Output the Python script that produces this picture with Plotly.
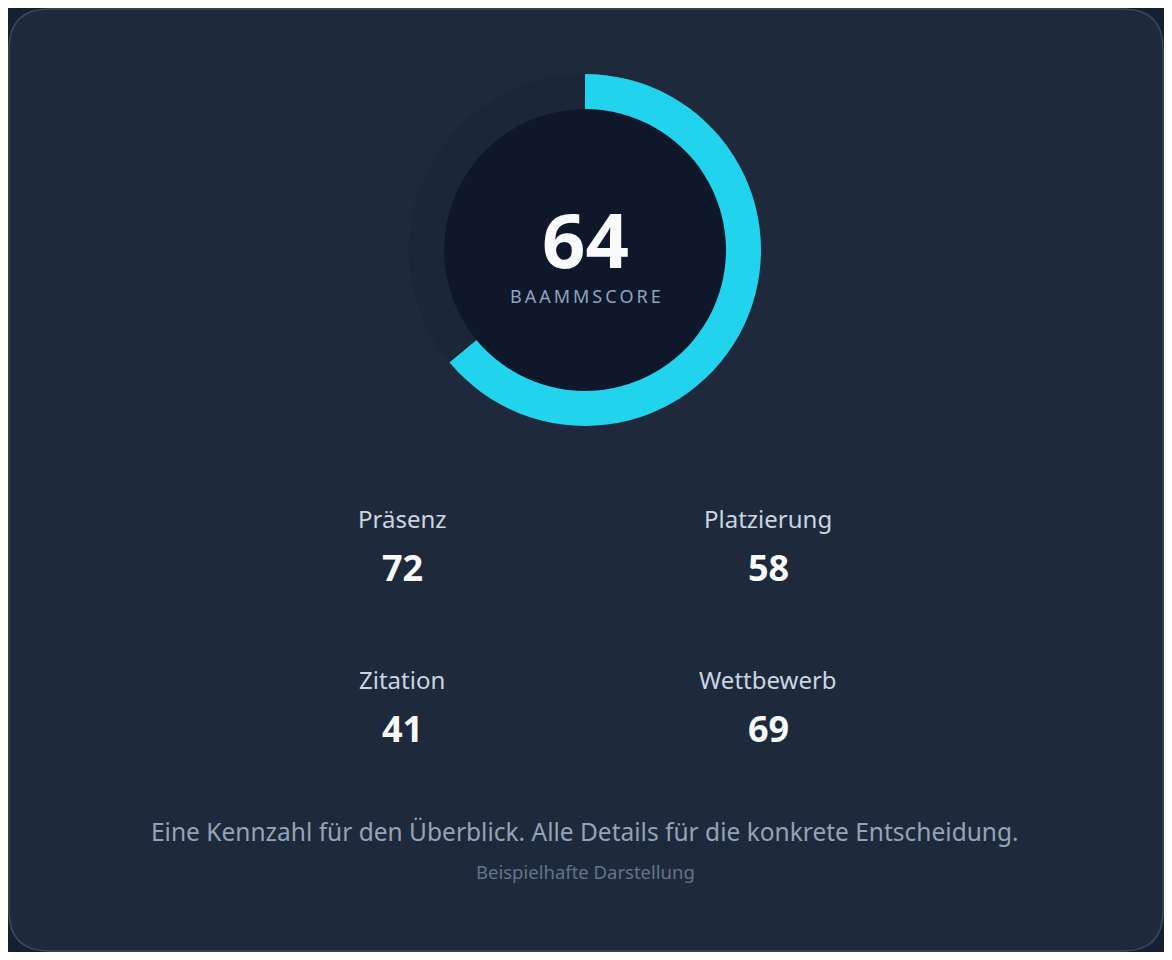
import plotly.graph_objects as go

# Werte
score = 64
score_label = "BAAMMSCORE"
metric_names = ["Präsenz", "Platzierung", "Zitation", "Wettbewerb"]
metric_values = [72, 58, 41, 69]
footer_text = "Eine Kennzahl für den Überblick. Alle Details für die konkrete Entscheidung."
sub_text = "Beispielhafte Darstellung"

OFF = 8  # Seitenrand des Browsers
W, H = 1172 - 2 * OFF, 960 - 2 * OFF
FONT = "Noto Sans"

def px(x):
    return (x - OFF) / W

def py(y):
    return 1 - (y - OFF) / H

cx, cy, r_out, r_in = 585, 250, 176, 141

fig = go.Figure()
fig.add_trace(go.Pie(
    values=[score, 100 - score],
    marker=dict(colors=["#22d3ee", "#1b2637"], line=dict(width=0)),
    hole=r_in / r_out, sort=False, direction="clockwise", rotation=0,
    textinfo="none", hoverinfo="skip", showlegend=False,
    domain=dict(x=[px(cx - r_out), px(cx + r_out)], y=[py(cy + r_out), py(cy - r_out)]),
))

# abgerundete Karte
x0, x1, y0, y1, rr = px(OFF + 1), px(W + OFF - 1), py(H + OFF - 1), py(OFF + 1), 40
rx, ry = rr / W, rr / H
card = ("M {a},{y0} L {b},{y0} Q {x1},{y0} {x1},{c} L {x1},{d} Q {x1},{y1} {b},{y1} "
        "L {a},{y1} Q {x0},{y1} {x0},{d} L {x0},{c} Q {x0},{y0} {a},{y0} Z").format(
    a=x0 + rx, b=x1 - rx, c=y0 + ry, d=y1 - ry, x0=x0, x1=x1, y0=y0, y1=y1)

shapes = [
    dict(type="path", xref="paper", yref="paper", path=card,
         fillcolor="#1e293b", line=dict(color="#3a4a60", width=1.5), layer="below"),
    dict(type="circle", xref="paper", yref="paper", x0=px(cx - r_in), x1=px(cx + r_in),
         y0=py(cy + r_in), y1=py(cy - r_in), fillcolor="#0f172a", line=dict(width=0), layer="below"),
]

ann = [
    dict(text="<b>%d</b>" % score, x=px(cx), y=py(238), font=dict(size=76, color="#f8fafc", family=FONT)),
    dict(text="\u2009".join(score_label), x=px(cx), y=py(296),
         font=dict(size=18, color="#8fa3bf", family=FONT)),
    dict(text=footer_text, x=px(cx), y=py(831), font=dict(size=24.5, color="#94a3b8", family=FONT)),
    dict(text=sub_text, x=px(cx), y=py(871), font=dict(size=18.5, color="#64748b", family=FONT)),
]
xs = [402, 768, 402, 768]
ys = [518, 518, 679, 679]
for name, val, x, y in zip(metric_names, metric_values, xs, ys):
    ann.append(dict(text=name, x=px(x), y=py(y), font=dict(size=24, color="#cbd5e1", family=FONT)))
    ann.append(dict(text="<b>%d</b>" % val, x=px(x), y=py(y + 49), font=dict(size=36, color="#f8fafc", family=FONT)))
for a in ann:
    a.update(xref="paper", yref="paper", showarrow=False, xanchor="center", yanchor="middle")

fig.update_layout(
    width=W, height=H, margin=dict(l=0, r=0, t=0, b=0),
    paper_bgcolor="#172030", plot_bgcolor="rgba(0,0,0,0)",
    shapes=shapes, annotations=ann,
)
fig.write_html("out.html")
